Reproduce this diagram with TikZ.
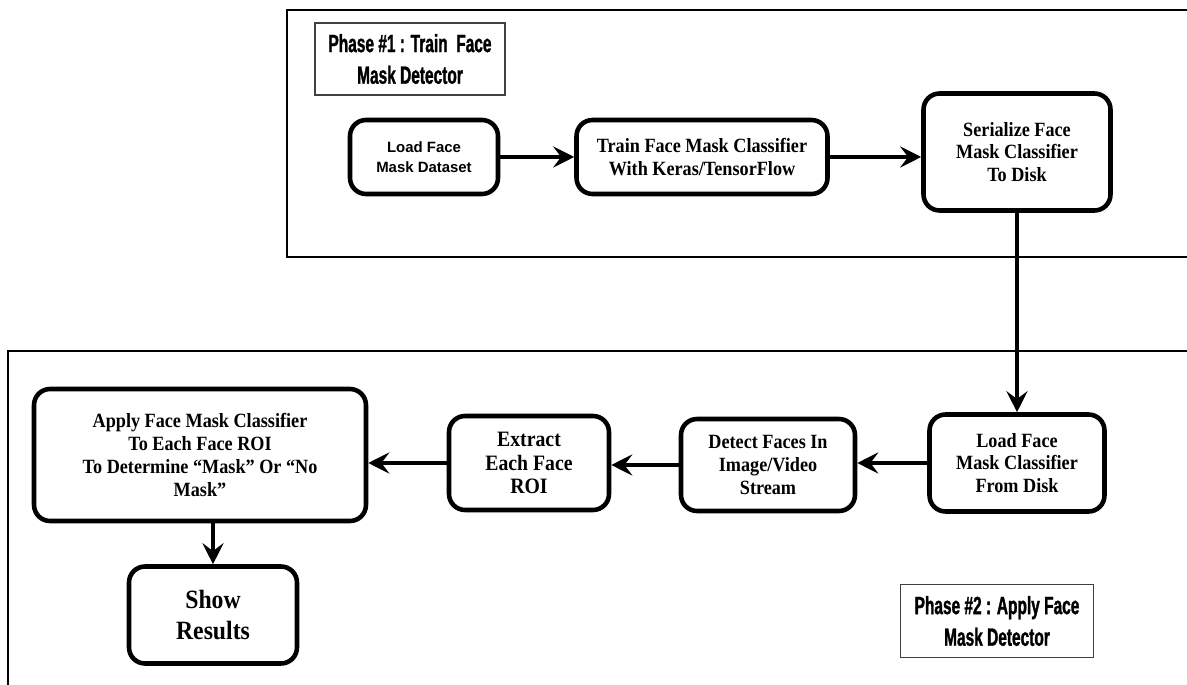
\documentclass[tikz,border=0pt]{standalone}
\usepackage{fontspec}
\setmainfont{Liberation Serif}
\newfontfamily\stagefont[FakeStretch=0.9]{Liberation Serif}
\newfontfamily\phasefont[FakeStretch=0.62,FakeBold=1.2]{Liberation Sans}
\newfontfamily\smallsans[FakeStretch=1.0]{Liberation Sans}
\usetikzlibrary{arrows.meta}

\begin{document}
\begin{tikzpicture}[x=0.02cm, y=-0.02cm,
    stage/.style={draw, line width=2.6pt, rounded corners=0.32cm, align=center, inner sep=2pt,
      font=\stagefont\bfseries\fontsize{11.5}{13}\selectfont},
    phase/.style={draw=black!75, line width=0.6pt, align=center,
      font=\phasefont\bfseries\fontsize{14.2}{18}\selectfont},
    flow/.style={line width=2.3pt, -{Stealth[length=12pt, width=12pt, inset=4.5pt]}},
    frame/.style={line width=1.3pt}]
      \useasboundingbox (0,0) rectangle (1187,685);
      \draw[frame] (1187,10) -- (287,10) -- (287,257) -- (1187,257);
      \draw[frame] (1187,351) -- (8,351) -- (8,685);
      \node[phase, minimum width=3.8cm, minimum height=1.44cm] (phaseA) at (410,59) {Phase \#1 : Train\ \ Face\\Mask Detector};
      \node[phase, minimum width=3.86cm, minimum height=1.46cm] (phaseB) at (997,621) {Phase \#2 : Apply Face\\Mask Detector};
      \node[stage, minimum width=2.96cm, minimum height=1.48cm, font=\smallsans\bfseries\fontsize{8.5}{11.3}\selectfont] (loadset) at (424,157) {Load Face\\Mask Dataset};
      \node[stage, minimum width=5.02cm, minimum height=1.48cm] (train) at (702,157) {Train Face Mask Classifier\\With Keras/TensorFlow};
      \node[stage, minimum width=3.74cm, minimum height=2.34cm] (serial) at (1017,152) {Serialize Face\\Mask Classifier\\To Disk};
      \node[stage, minimum width=3.5cm, minimum height=1.94cm] (loadcls) at (1017,463) {Load Face\\Mask Classifier\\From Disk};
      \node[stage, minimum width=3.48cm, minimum height=1.84cm] (detect) at (768,465) {Detect Faces In\\Image/Video\\Stream};
      \node[stage, minimum width=3.2cm, minimum height=1.88cm, font=\stagefont\bfseries\fontsize{12.5}{13.6}\selectfont] (extract) at (529,463) {Extract\\Each Face\\ROI};
      \node[stage, minimum width=6.64cm, minimum height=2.64cm] (apply) at (200,455) {Apply Face Mask Classifier\\To Each Face ROI\\To Determine “Mask” Or “No\\Mask”};
      \node[stage, minimum width=3.36cm, minimum height=1.94cm, font=\stagefont\bfseries\fontsize{15}{18}\selectfont] (show) at (213,615) {Show\\Results};
      \draw[flow] (loadset.east) -- (loadset.east -| train.west);
      \draw[flow] (train.east) -- (train.east -| serial.west);
      \draw[flow] (serial.south) -- (loadcls.north);
      \draw[flow] (loadcls.west) -- (loadcls.west -| detect.east);
      \draw[flow] (detect.west) -- (detect.west -| extract.east);
      \draw[flow] (extract.west) -- (extract.west -| apply.east);
      \draw[flow] (apply.south -| show.north) -- (show.north);
    \end{tikzpicture}
\end{document}
